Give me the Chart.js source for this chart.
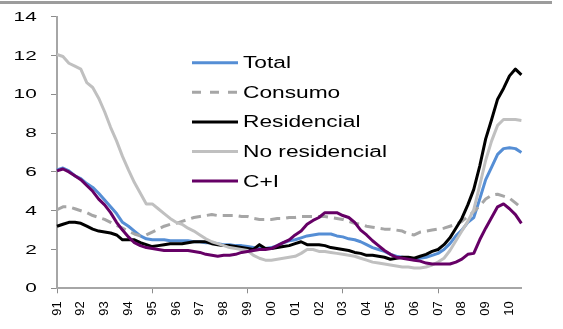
<!DOCTYPE html>
<html>
<head>
<meta charset="utf-8">
<script src="https://cdn.jsdelivr.net/npm/chart.js@4.4.1/dist/chart.umd.min.js"></script>
<style>
  html, body { margin: 0; padding: 0; background: #fff; }
  #wrap { position: relative; width: 563px; height: 329px; }
</style>
</head>
<body>
<div id="wrap">
  <canvas id="grafico" width="563" height="329"></canvas>
</div>
<script>
// etiquetas de año (un tick por año, datos trimestrales 91T1 - 10T3)
const anos = ["91", "92", "93", "94", "95", "96", "97", "98", "99", "00",
  "01", "02", "03", "04", "05", "06", "07", "08", "09", "10"];

const total = [
  6.1, 6.2, 6.05, 5.8, 5.65, 5.4, 5.2, 4.9, 4.55, 4.2,
  3.85, 3.4, 3.2, 2.95, 2.7, 2.55, 2.5, 2.5, 2.5, 2.45,
  2.45, 2.45, 2.45, 2.4, 2.4, 2.35, 2.35, 2.3, 2.25, 2.25,
  2.2, 2.2, 2.15, 2.1, 2.05, 2.05, 2.1, 2.2, 2.35, 2.45,
  2.5, 2.6, 2.7, 2.75, 2.8, 2.8, 2.8, 2.7, 2.65, 2.55,
  2.5, 2.4, 2.25, 2.1, 2.0, 1.9, 1.75, 1.65, 1.6, 1.55,
  1.5, 1.55, 1.6, 1.7, 1.8, 2.0, 2.3, 2.7, 3.0, 3.4,
  3.65, 4.6, 5.6, 6.25, 6.9, 7.2, 7.25, 7.2, 7.0
];
const consumo = [
  4.05, 4.2, 4.2, 4.1, 4.0, 3.9, 3.75, 3.65, 3.55, 3.4,
  3.25, 3.1, 2.95, 2.8, 2.7, 2.75, 2.9, 3.05, 3.2, 3.3,
  3.35, 3.45, 3.55, 3.65, 3.7, 3.75, 3.8, 3.75, 3.75, 3.75,
  3.75, 3.7, 3.7, 3.6, 3.55, 3.55, 3.55, 3.6, 3.6, 3.65,
  3.65, 3.7, 3.7, 3.7, 3.7, 3.7, 3.65, 3.6, 3.55, 3.45,
  3.35, 3.3, 3.2, 3.15, 3.1, 3.05, 3.05, 3.0, 2.95, 2.8,
  2.75, 2.9, 2.95, 3.0, 3.05, 3.1, 3.2, 3.3, 3.45, 3.7,
  3.95, 4.25, 4.6, 4.8, 4.85, 4.75, 4.65, 4.4, 4.15
];
const residencial = [
  3.2, 3.3, 3.4, 3.4, 3.35, 3.2, 3.05, 2.95, 2.9, 2.85,
  2.75, 2.5, 2.5, 2.5, 2.35, 2.25, 2.15, 2.2, 2.25, 2.3,
  2.3, 2.3, 2.35, 2.4, 2.4, 2.4, 2.3, 2.25, 2.2, 2.2,
  2.15, 2.1, 2.05, 2.0, 2.25, 2.05, 2.05, 2.1, 2.15, 2.2,
  2.3, 2.4, 2.25, 2.25, 2.25, 2.2, 2.1, 2.05, 2.0, 1.95,
  1.85, 1.8, 1.7, 1.7, 1.65, 1.6, 1.5, 1.55, 1.6, 1.6,
  1.55, 1.65, 1.75, 1.9, 2.0, 2.25, 2.6, 3.1, 3.6, 4.3,
  5.1, 6.3, 7.7, 8.7, 9.75, 10.3, 10.95, 11.3, 11.0
];
const noResidencial = [
  12.05, 11.95, 11.6, 11.45, 11.3, 10.6, 10.35, 9.8, 9.1, 8.3,
  7.6, 6.8, 6.1, 5.45, 4.9, 4.35, 4.35, 4.1, 3.85, 3.6,
  3.4, 3.3, 3.1, 2.95, 2.75, 2.55, 2.4, 2.3, 2.2, 2.1,
  2.05, 2.0, 1.95, 1.7, 1.55, 1.45, 1.45, 1.5, 1.55, 1.6,
  1.65, 1.8, 2.0, 2.0, 1.9, 1.9, 1.85, 1.8, 1.75, 1.7,
  1.65, 1.55, 1.45, 1.35, 1.3, 1.25, 1.2, 1.15, 1.1, 1.1,
  1.05, 1.05, 1.1, 1.2, 1.35, 1.55, 1.95, 2.45, 2.95, 3.45,
  4.05, 5.3, 6.6, 7.6, 8.4, 8.7, 8.7, 8.7, 8.65
];
const cMasI = [
  6.05, 6.15, 6.0, 5.8, 5.6, 5.3, 5.0, 4.6, 4.3, 3.9,
  3.4, 3.0, 2.65, 2.35, 2.2, 2.1, 2.05, 2.0, 1.95, 1.95,
  1.95, 1.95, 1.95, 1.9, 1.85, 1.75, 1.7, 1.65, 1.7, 1.7,
  1.75, 1.85, 1.9, 1.95, 2.0, 2.0, 2.05, 2.2, 2.35, 2.5,
  2.75, 2.95, 3.3, 3.5, 3.65, 3.9, 3.9, 3.9, 3.75, 3.65,
  3.4, 3.0, 2.75, 2.45, 2.2, 1.95, 1.75, 1.6, 1.55, 1.5,
  1.45, 1.4, 1.3, 1.25, 1.25, 1.25, 1.25, 1.35, 1.5, 1.75,
  1.8, 2.5, 3.1, 3.65, 4.2, 4.35, 4.1, 3.8, 3.35
];

// categorías trimestrales
const trimestres = [];
anos.forEach((a) => {
  for (let q = 1; q <= 4; q++) trimestres.push(a + "T" + q);
});
trimestres.length = total.length;

const FUENTE = "'Liberation Sans', Arial, sans-serif";

function serie(label, data, color, orden, dash) {
  return {
    label: label,
    data: data,
    borderColor: color,
    borderWidth: 3,
    borderDash: dash || [],
    borderJoinStyle: "round",
    pointRadius: 0,
    tension: 0,
    fill: false,
    order: orden,
  };
}

// texto ensanchado horizontalmente, como en el original
function textoAncho(ctx, str, x, y, escala, size, align) {
  ctx.save();
  ctx.translate(x, y);
  ctx.scale(escala, 1);
  ctx.font = size + "px " + FUENTE;
  ctx.fillStyle = "#000";
  ctx.textAlign = align;
  ctx.textBaseline = "middle";
  ctx.fillText(str, 0, 0);
  ctx.restore();
}

// franja gris del borde superior
const bordeSuperior = {
  id: "bordeSuperior",
  beforeDraw(chart) {
    const ctx = chart.ctx;
    ctx.save();
    ctx.fillStyle = "#9c9c9c";
    ctx.fillRect(0, 1, 552, 3);
    ctx.restore();
  },
};

// etiquetas del eje y (desde los ticks de la escala)
const etiquetasY = {
  id: "etiquetasY",
  afterDraw(chart) {
    const ys = chart.scales.y;
    ys.ticks.forEach((t) => {
      textoAncho(chart.ctx, String(t.value), 36.7, ys.getPixelForValue(t.value) + 0.5, 1.6, 13, "right");
    });
  },
};

// leyenda dentro del área del gráfico
const leyenda = {
  id: "leyenda",
  afterDraw(chart) {
    const ctx = chart.ctx;
    chart.data.datasets.forEach((ds, i) => {
      const y = 62.7 + i * 29.6;
      ctx.save();
      ctx.beginPath();
      ctx.strokeStyle = ds.borderColor;
      ctx.lineWidth = 3;
      ctx.setLineDash(ds.borderDash.length ? [9, 9] : []);
      ctx.moveTo(192, y);
      ctx.lineTo(238, y);
      ctx.stroke();
      ctx.restore();
      textoAncho(ctx, ds.label, 243, y + 1, 1.42, 16, "left");
    });
  },
};

const ctx = document.getElementById("grafico").getContext("2d");
const grafico = new Chart(ctx, {
  type: "line",
  data: {
    labels: trimestres,
    datasets: [
      serie("Total", total, "#558ed5", 5),
      serie("Consumo", consumo, "#a6a6a6", 4, [10, 6]),
      serie("Residencial", residencial, "#000000", 3),
      serie("No residencial", noResidencial, "#c0c0c0", 2),
      serie("C+I", cMasI, "#660066", 1),
    ],
  },
  options: {
    responsive: false,
    animation: false,
    layout: { padding: { top: 16.7, right: 41.6, left: 0, bottom: 0 } },
    plugins: { legend: { display: false }, tooltip: { enabled: false } },
    scales: {
      x: {
        type: "category",
        offset: false,
        afterFit(scale) { scale.height = 40.7; },
        grid: {
          drawOnChartArea: false,
          tickLength: 5,
          tickColor: (c) => (c.index % 4 === 0 ? "#8c8c8c" : "rgba(0,0,0,0)"),
        },
        border: { color: "#a6a6a6", width: 2 },
        ticks: {
          autoSkip: false,
          maxRotation: 90,
          minRotation: 90,
          padding: 8,
          color: "#000",
          font: { family: FUENTE, size: 13 },
          callback: (v, i) => (i % 4 === 0 ? anos[i / 4] : null),
        },
      },
      y: {
        min: 0,
        max: 14,
        afterFit(scale) { scale.width = 57; },
        grid: { drawOnChartArea: false, tickLength: 6, tickColor: "#8c8c8c" },
        border: { color: "#a6a6a6", width: 2 },
        ticks: { stepSize: 2, display: false },
      },
    },
  },
  plugins: [bordeSuperior, etiquetasY, leyenda],
});
</script>
</body>
</html>
